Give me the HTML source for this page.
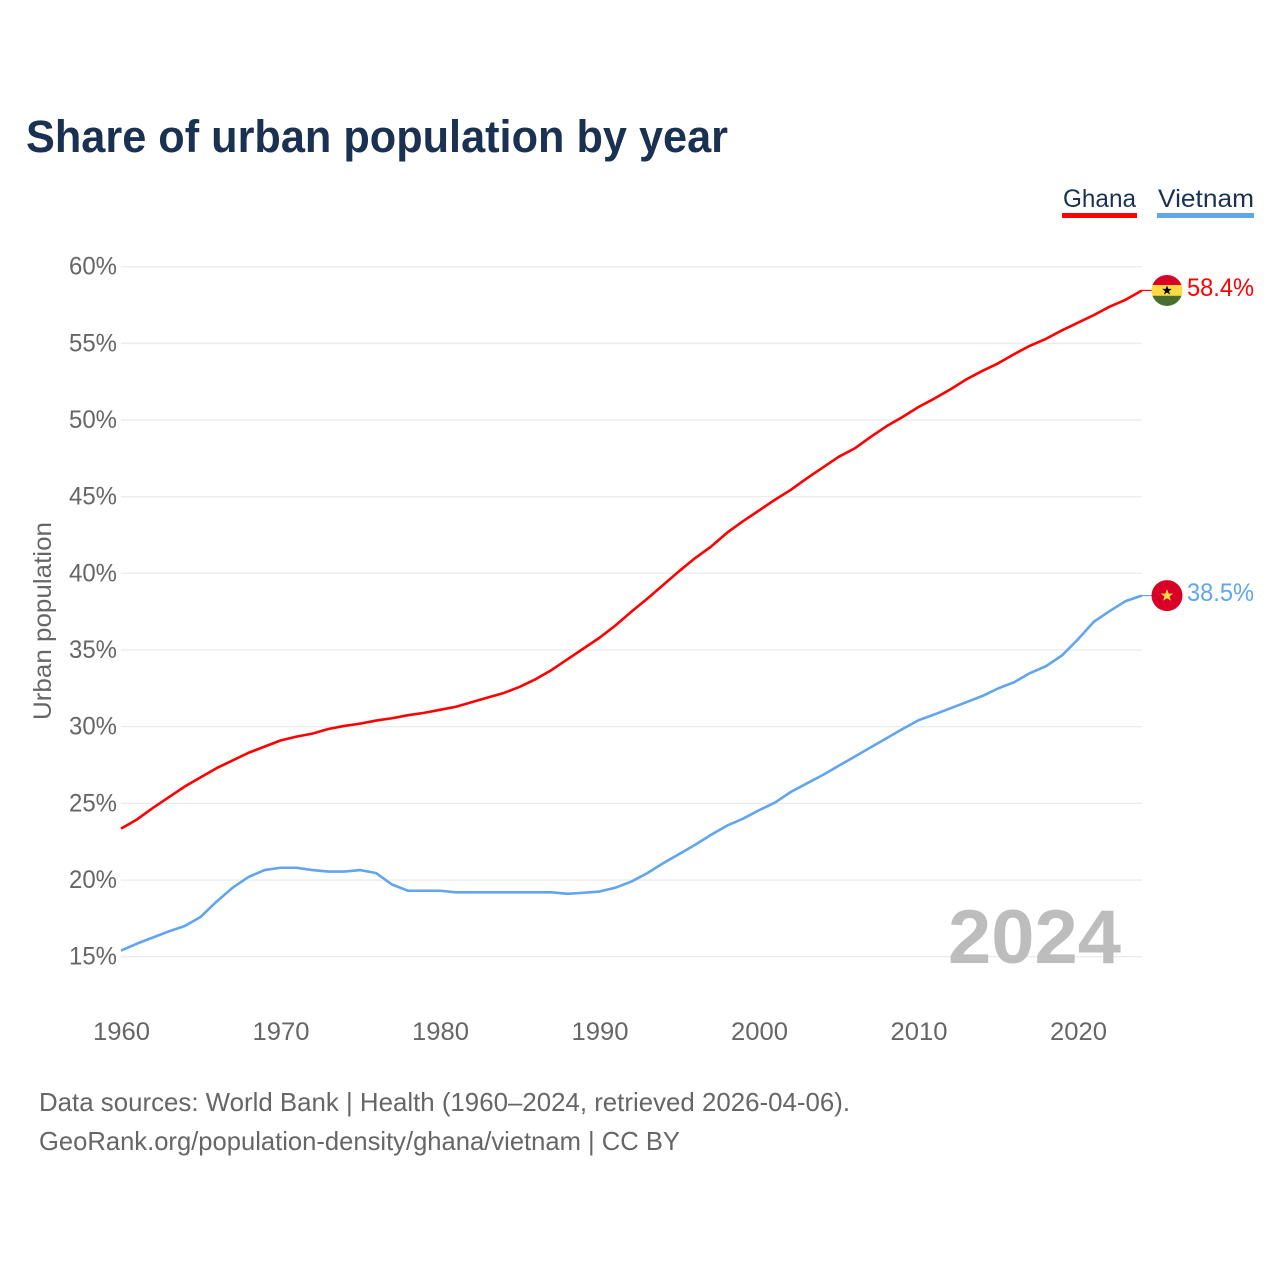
<!DOCTYPE html>
<html lang="en">
<head>
<meta charset="utf-8">
<title>Share of urban population by year</title>
<style>
  html, body { margin: 0; padding: 0; background: #fff; }
  svg { display: block; }
  text { font-family: "Liberation Sans", sans-serif; }
</style>
</head>
<body>
<svg id="chart" xmlns="http://www.w3.org/2000/svg" width="1280" height="1280" viewBox="0 0 1280 1280">
  <rect x="0" y="0" width="1280" height="1280" fill="#fff"/>
  <text x="26" y="152" font-size="45" font-weight="700" fill="#1a3152" textLength="702" lengthAdjust="spacingAndGlyphs">Share of urban population by year</text>

  <g>
    <text x="1063" y="207" font-size="25" fill="#1a3152" textLength="73" lengthAdjust="spacingAndGlyphs">Ghana</text>
    <rect x="1062" y="213" width="75" height="5" fill="#ff0000"/>
  </g>
  <g>
    <text x="1158" y="207" font-size="25" fill="#1a3152" textLength="96" lengthAdjust="spacingAndGlyphs">Vietnam</text>
    <rect x="1157" y="213" width="97" height="5" fill="#60a5ee"/>
  </g>

  <g id="grid"></g>
  <g id="yticks"></g>
  <g id="xticks"></g>

  <text transform="translate(51,621) rotate(-90)" text-anchor="middle" font-size="25" fill="#666" textLength="198" lengthAdjust="spacingAndGlyphs">Urban population</text>

  <text x="948" y="963" font-size="76" font-weight="700" fill="#bdbdbd" textLength="173" lengthAdjust="spacingAndGlyphs">2024</text>

  <g id="series"></g>

  <g id="flag-ghana">
    <clipPath id="clip-ghana"><circle cx="0" cy="0" r="15.5"/></clipPath>
    <g clip-path="url(#clip-ghana)">
      <rect x="-16" y="-16" width="32" height="11" fill="#d80027"/>
      <rect x="-16" y="-5.5" width="32" height="11" fill="#ffda44"/>
      <rect x="-16" y="5.3" width="32" height="11" fill="#496e2d"/>
    </g>
    <polygon points="0,-5 1.3,-1.6 4.8,-1.6 2,0.6 3,4 0,2 -3,4 -2,0.6 -4.8,-1.6 -1.3,-1.6" fill="#000"/>
  </g>
  <g id="flag-vietnam">
    <circle cx="0" cy="0" r="15.5" fill="#d80027"/>
    <polygon points="0,-6.5 1.7,-2 6.3,-2 2.6,0.8 3.9,5.2 0,2.6 -3.9,5.2 -2.6,0.8 -6.3,-2 -1.7,-2" fill="#ffda44"/>
  </g>
  <g id="end-labels"></g>

  <text x="39" y="1111" font-size="26" fill="#666" textLength="811" lengthAdjust="spacingAndGlyphs">Data sources: World Bank | Health (1960–2024, retrieved 2026-04-06).</text>
  <text x="39" y="1150" font-size="26" fill="#666" textLength="641" lengthAdjust="spacingAndGlyphs">GeoRank.org/population-density/ghana/vietnam | CC BY</text>
</svg>
<script>
const startYear = 1960;
const yTickValues = [15, 20, 25, 30, 35, 40, 45, 50, 55, 60];
const xTickValues = [1960, 1970, 1980, 1990, 2000, 2010, 2020];
const ghanaValues = [
  23.35, 23.95, 24.7, 25.4, 26.1, 26.7, 27.3, 27.8, 28.3, 28.7,
  29.1, 29.35, 29.55, 29.85, 30.05, 30.2, 30.4, 30.55, 30.75, 30.9,
  31.1, 31.3, 31.6, 31.9, 32.2, 32.6, 33.1, 33.7, 34.4, 35.1,
  35.8, 36.6, 37.5, 38.35, 39.25, 40.15, 41.0, 41.75, 42.65, 43.4,
  44.1, 44.8, 45.45, 46.2, 46.9, 47.6, 48.15, 48.9, 49.6, 50.2,
  50.85, 51.4, 52.0, 52.65, 53.2, 53.7, 54.3, 54.85, 55.3, 55.85,
  56.35, 56.85, 57.4, 57.85, 58.45
];
const vietnamValues = [
  15.4, 15.85, 16.25, 16.65, 17.0, 17.6, 18.6, 19.5, 20.2, 20.65,
  20.8, 20.8, 20.65, 20.55, 20.55, 20.65, 20.45, 19.7, 19.3, 19.3,
  19.3, 19.2, 19.2, 19.2, 19.2, 19.2, 19.2, 19.2, 19.1, 19.17,
  19.25, 19.5, 19.9, 20.45, 21.1, 21.7, 22.3, 22.95, 23.55, 24.0,
  24.55, 25.05, 25.75, 26.3, 26.85, 27.45, 28.05, 28.65, 29.25, 29.85,
  30.42, 30.8, 31.2, 31.6, 32.0, 32.5, 32.9, 33.5, 33.95, 34.65,
  35.7, 36.85, 37.55, 38.2, 38.55
];
const ghanaEndLabel = "58.4%";
const vietnamEndLabel = "38.5%";

const NS = "http://www.w3.org/2000/svg";
function xScale(year) { return 121 + (year - 1960) * 15.95; }
function yScale(pct) { return 266.7 + (60 - pct) * 15.333; }
function make(tag, attrs, parent) {
  const el = document.createElementNS(NS, tag);
  for (const k in attrs) el.setAttribute(k, attrs[k]);
  parent.appendChild(el);
  return el;
}

const gridG = document.getElementById("grid");
const yG = document.getElementById("yticks");
const xG = document.getElementById("xticks");
const seriesG = document.getElementById("series");
const endG = document.getElementById("end-labels");

yTickValues.forEach(function (v) {
  const line = make("line", { x1: 121, x2: 1142, y1: yScale(v), y2: yScale(v), stroke: "#ececec", "stroke-width": 1.4 }, gridG);
  
  
  const t = make("text", { x: 69, y: yScale(v) + 8, "font-size": 25, fill: "#666", textLength: 48, lengthAdjust: "spacingAndGlyphs" }, yG);
  t.textContent = v + "%";
  
  
});

xTickValues.forEach(function (yr) {
  const t = make("text", { x: xScale(yr) - 28, y: 1040, "font-size": 25, fill: "#666", textLength: 57, lengthAdjust: "spacingAndGlyphs" }, xG);
  t.textContent = String(yr);
  
  
});

function drawSeries(values, color, flagId, label, seriesName) {
  const pts = values.map(function (v, i) { return xScale(startYear + i).toFixed(2) + "," + yScale(v).toFixed(2); }).join(" ");
  const line = make("polyline", { points: pts, fill: "none", stroke: color, "stroke-width": 2.6, "stroke-linejoin": "round" }, seriesG);
  
  
  const lastY = yScale(values[values.length - 1]);
  const lastX = xScale(startYear + values.length - 1);
  const conn = make("line", { x1: lastX, x2: 1153, y1: lastY, y2: lastY, stroke: color, "stroke-width": 1.2 }, seriesG);
  
  
  document.getElementById(flagId).setAttribute("transform", "translate(1167," + lastY.toFixed(2) + ")");
  const t = make("text", { x: 1187, y: lastY + 5.5, "font-size": 25, fill: color, textLength: 67, lengthAdjust: "spacingAndGlyphs" }, endG);
  t.textContent = label;
  
  
}

drawSeries(vietnamValues, "#60a5ee", "flag-vietnam", vietnamEndLabel, "vietnam");
drawSeries(ghanaValues, "#ff0000", "flag-ghana", ghanaEndLabel, "ghana");
</script>
</body>
</html>
